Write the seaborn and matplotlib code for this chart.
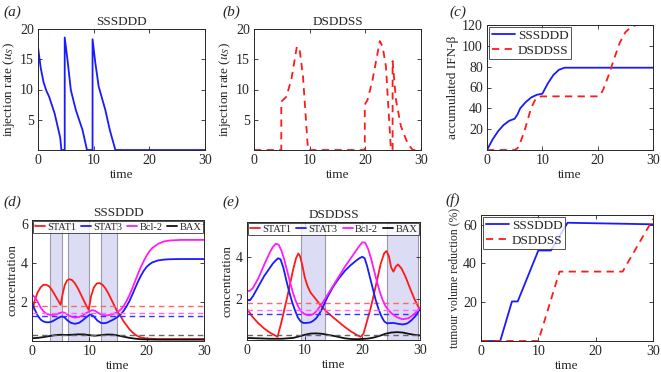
import numpy as np
import pandas as pd
import matplotlib
matplotlib.use("Agg")
import matplotlib.pyplot as plt
import seaborn as sns

# ---- (a) SSSDDD injection rate
inj_s_t = [0, 0.5, 1, 1.5, 2, 3, 4, 4.2, 4.8, 4.8, 5.3, 5.9, 6.8, 8.0, 8.8, 9.8, 9.8, 10.3, 10.9, 12.1, 12.9, 13.9, 30]
inj_s_u = [17, 13.5, 11.2, 9.8, 8.8, 6.0, 2.0, 0, 0, 18.6, 14.9, 9.9, 6.6, 3.3, 0, 0, 18.3, 14.4, 10.5, 6.6, 3.3, 0, 0]

# ---- (b) DSDDSS injection rate
inj_d_t = [0, 4.9, 4.9, 5.8, 6.7, 7.7, 8.2, 8.8, 9.7, 19.9, 19.9, 20.4, 21.3, 22.6, 23.1, 23.7, 24.6, 24.9,
           24.9, 25.5, 26.4, 27.6, 28.5, 30]
inj_d_u = [0, 0, 8.0, 8.8, 11.6, 17.1, 16.6, 12.2, 0, 0, 7.5, 8.3, 11.6, 18.0, 17.1, 13.8, 0, 0,
           14.7, 8.3, 3.9, 1.1, 0, 0]

# ---- (c) accumulated IFN-beta
acc_s_t = [0, 1, 2, 3, 4, 5, 5.5, 6, 7, 8, 9, 10, 10.5, 11, 12, 13, 14, 30]
acc_s_v = [0, 10, 18, 24, 28, 30, 34, 40, 46, 50.5, 53, 54, 59, 64, 72, 77, 79, 79]
acc_d_t = [0, 5.0, 5.5, 6.0, 6.7, 7.3, 7.9, 8.4, 8.8, 9.3, 9.8, 20, 20.5, 21, 22, 23, 24, 25, 26, 27, 30]
acc_d_v = [0, 0, 1.6, 7, 17, 28, 39, 45, 49, 51, 51.5, 51.5, 53, 58, 72, 88, 103, 113, 118, 120, 120]

# ---- (d) concentrations, SSSDDD
d_s1_t = [0, 0.5, 1, 1.5, 2, 2.5, 3, 3.5, 4, 4.5, 5.0, 5.3, 5.7, 6.1, 6.5, 7, 7.5, 8, 8.5, 9, 9.5, 9.9, 10.3, 10.8,
          11.3, 11.8, 12.3, 12.8, 13.3, 13.8, 14.3, 14.8, 15.5, 16, 16.5, 17, 17.5, 18, 18.5, 19, 20, 21, 22, 25, 30]
d_s1_v = [1.5, 2.1, 2.5, 2.75, 2.88, 2.88, 2.8, 2.6, 2.35, 2.1, 1.85, 2.35, 2.85, 3.1, 3.17, 3.12, 2.95, 2.7, 2.4,
          2.1, 1.8, 1.6, 2.3, 2.75, 2.95, 2.97, 2.88, 2.7, 2.45, 2.15, 1.85, 1.55, 1.25, 1.0, 0.8, 0.6, 0.45, 0.33,
          0.24, 0.18, 0.13, 0.11, 0.1, 0.1, 0.1]
d_s3_t = [0, 0.5, 1, 1.5, 2, 2.5, 3, 3.5, 4, 4.5, 5, 5.3, 5.7, 6.2, 6.8, 7.5, 8.2, 8.8, 9.4, 10.0, 10.3, 10.8, 11.4,
          12, 12.5, 13, 13.5, 14, 14.5, 15, 15.5, 16, 16.5, 17, 17.5, 18, 18.5, 19, 19.5, 20, 20.5, 21, 22, 23, 24, 26, 30]
d_s3_v = [1.95, 1.6, 1.3, 1.1, 1.0, 0.96, 0.96, 1.0, 1.08, 1.17, 1.24, 1.26, 1.2, 1.05, 0.93, 0.88, 0.93, 1.05, 1.2,
          1.33, 1.36, 1.25, 1.05, 0.93, 0.91, 0.93, 1.0, 1.07, 1.15, 1.25, 1.38, 1.55, 1.78, 2.05, 2.38, 2.72, 3.05,
          3.35, 3.6, 3.8, 3.93, 4.03, 4.13, 4.17, 4.19, 4.2, 4.2]
d_bcl_t = [0, 0.5, 1, 1.5, 2, 2.5, 3, 3.5, 4, 4.5, 5, 5.3, 5.7, 6.2, 6.8, 7.5, 8.2, 8.8, 9.4, 10.0, 10.5, 11, 11.5,
           12, 12.5, 13, 13.5, 14, 14.5, 15, 15.5, 16, 16.5, 17, 17.5, 18, 18.5, 19, 19.5, 20, 20.5, 21, 22, 23, 24, 26, 30]
d_bcl_v = [2.36, 2.25, 2.0, 1.72, 1.52, 1.4, 1.35, 1.33, 1.35, 1.4, 1.45, 1.47, 1.45, 1.35, 1.25, 1.2, 1.23, 1.3, 1.42,
           1.52, 1.58, 1.55, 1.45, 1.37, 1.33, 1.31, 1.33, 1.37, 1.42, 1.5, 1.62, 1.8, 2.05, 2.35, 2.7, 3.08, 3.45,
           3.8, 4.1, 4.38, 4.6, 4.77, 4.98, 5.1, 5.15, 5.18, 5.18]
d_bax_t = [0, 1, 2, 3, 4, 5, 6, 7, 8, 9, 10, 11, 12, 13, 14, 15, 16, 17, 18, 19, 20, 22, 25, 30]
d_bax_v = [0.14, 0.16, 0.2, 0.25, 0.3, 0.32, 0.31, 0.32, 0.34, 0.34, 0.3, 0.27, 0.3, 0.33, 0.33, 0.28, 0.22, 0.16,
           0.12, 0.09, 0.08, 0.07, 0.07, 0.07]
d_ref = [1.8, 1.28, 1.42, 0.3]
d_bands = [(3.1, 5.3), (6.2, 9.9), (12.0, 14.9)]

# ---- (e) concentrations, DSDDSS
e_s1_t = [0, 1, 2, 3, 4, 5, 5.3, 6, 6.5, 7, 7.5, 8, 8.5, 8.9, 9.2, 9.6, 10, 10.5, 11, 12, 13, 14, 15, 16, 17, 18, 19,
          19.7, 20.2, 20.8, 21.5, 22, 22.6, 23.2, 23.8, 24.2, 24.6, 25, 25.4, 25.8, 26.2, 26.8, 27.5, 28.2, 29, 30]
e_s1_v = [1.5, 1.1, 0.8, 0.55, 0.35, 0.2, 0.15, 0.9, 1.5, 2.1, 2.75, 3.4, 3.95, 4.18, 4.05, 3.6, 3.05, 2.6, 2.3,
          1.95, 1.6, 1.32, 1.08, 0.85, 0.62, 0.42, 0.25, 0.15, 0.3, 0.9, 1.6, 2.2, 2.95, 3.7, 4.2, 4.3, 4.05, 3.5,
          3.3, 3.55, 3.65, 3.45, 3.05, 2.55, 2.0, 1.45]
e_s3_t = [0, 0.5, 1, 2, 3, 4, 4.5, 5, 5.4, 5.8, 6.3, 6.8, 7.3, 7.8, 8.3, 8.8, 9.3, 9.8, 10.5, 11, 11.5, 12, 12.5, 13,
          13.5, 14, 15, 16, 17, 18, 19, 19.5, 20, 20.4, 20.8, 21.3, 21.8, 22.3, 22.8, 23.3, 23.8, 24.3, 24.8, 25.5,
          26.2, 27, 27.8, 28.5, 29.2, 30]
e_s3_v = [1.92, 1.92, 2.1, 2.6, 3.1, 3.5, 3.7, 3.85, 3.95, 3.9, 3.5, 2.9, 2.35, 1.85, 1.45, 1.1, 0.9, 0.82, 0.83,
          0.85, 0.93, 1.05, 1.25, 1.5, 1.8, 2.1, 2.6, 3.0, 3.35, 3.62, 3.85, 3.95, 4.02, 3.95, 3.6, 3.05, 2.5, 1.95,
          1.5, 1.15, 0.9, 0.8, 0.82, 0.82, 0.78, 0.75, 0.8, 0.95, 1.15, 1.5]
e_bcl_t = [0, 0.5, 1, 2, 3, 4, 4.5, 5, 5.5, 6, 6.5, 7, 7.5, 8, 8.5, 9, 9.5, 10, 10.5, 11, 11.5, 12, 13, 14, 15, 16,
           17, 18, 19, 19.5, 20, 20.5, 21, 21.5, 22, 22.5, 23, 23.5, 24, 24.5, 25, 25.5, 26, 27, 28, 29, 30]
e_bcl_v = [2.35, 2.38, 2.5, 3.0, 3.65, 4.25, 4.5, 4.65, 4.6, 4.3, 3.85, 3.3, 2.75, 2.25, 1.85, 1.55, 1.35, 1.25,
           1.2, 1.2, 1.25, 1.38, 1.75, 2.2, 2.65, 3.1, 3.55, 3.95, 4.35, 4.55, 4.72, 4.7, 4.4, 3.95, 3.4, 2.85, 2.35,
           1.95, 1.65, 1.45, 1.3, 1.2, 1.1, 1.0, 1.05, 1.25, 1.55]
e_bax_t = [0, 2, 4, 6, 8, 9, 10, 11, 12, 13, 14, 15, 16, 17, 18, 19, 20, 21, 22, 23, 24, 25, 26, 27, 28, 29, 30]
e_bax_v = [0.1, 0.08, 0.06, 0.06, 0.1, 0.17, 0.25, 0.31, 0.32, 0.3, 0.25, 0.2, 0.14, 0.08, 0.05, 0.04, 0.05, 0.07,
           0.12, 0.2, 0.3, 0.36, 0.38, 0.36, 0.3, 0.25, 0.22]
e_ref = [1.79, 1.28, 1.44, 0.24]
e_bands = [(9.3, 13.6), (24.3, 29.6)]

# ---- (f) tumour volume reduction
tum_s_t = [0, 3.35, 5.4, 6.4, 10.0, 12.2, 15.1, 30]
tum_s_v = [0, 0, 20.4, 20.4, 46.7, 46.7, 61.0, 60.2]
tum_d_t = [0, 10.0, 13.7, 24.7, 29.9, 30]
tum_d_v = [0, 0, 35.8, 35.8, 62.4, 63.0]

species = ["STAT1", "STAT3", "Bcl-2", "BAX"]
sp_colors = ["#ff1a1a", "#1a1aff", "#ff1aff", "#111111"]
ref_colors = ["#ff6666", "#3333ff", "#ff66ff", "#666666"]

sns.set_style("ticks")
plt.rcParams["font.family"] = ["Liberation Serif", "DejaVu Serif"]
plt.rcParams["mathtext.fontset"] = "stix"
plt.rcParams["font.size"] = 9.5
plt.rcParams["axes.edgecolor"] = "#262626"
plt.rcParams["axes.linewidth"] = 0.7
plt.rcParams["xtick.color"] = "#262626"
plt.rcParams["ytick.color"] = "#262626"

fig = plt.figure(figsize=(6.61, 3.72), dpi=100)

W, H = 661.0, 372.0


def box(l, r, t, b):
    return [l / W, 1 - b / H, (r - l) / W, (b - t) / H]


def style(ax, xlab="time"):
    ax.set_xlim(0, 30)
    ax.set_xticks([0, 10, 20, 30])
    ax.tick_params(direction="in", top=True, right=True, length=3, width=0.6, labelsize=10, pad=3)
    ax.set_xlabel(xlab, labelpad=1)


def line(ax, t, v, color, ls="-", lw=1.3, label=None, alpha=1.0):
    sns.lineplot(x=t, y=v, ax=ax, color=color, linestyle=ls, linewidth=lw,
                 estimator=None, sort=False, label=label, alpha=alpha)


def framed(leg):
    leg.get_frame().set_edgecolor("#262626")
    leg.get_frame().set_linewidth(0.7)


def conc_panel(ax, series, refs, bands, ylim, yticks, title):
    for a, b in bands:
        ax.axvspan(a, b, facecolor="#dcdcf5", edgecolor="#9a9aaa", linewidth=0.8, zorder=0)
    for (t, v), c, rc, r, name in zip(series, sp_colors, ref_colors, refs, species):
        line(ax, t, v, c, label=name)
        ax.axhline(r, color=rc, linestyle=(0, (4, 3)), linewidth=1.0)
    style(ax)
    ax.set_ylim(*ylim)
    ax.set_yticks(yticks)
    ax.set_ylabel("concentration", labelpad=2)
    ax.set_title(title, fontsize=9.5, pad=3)
    leg = ax.legend(loc="upper center", ncol=4, fontsize=7.5, handlelength=1.0, handletextpad=0.2,
                    columnspacing=0.2, borderpad=0.15, borderaxespad=0.1, frameon=True, fancybox=False,
                    mode="expand", bbox_to_anchor=(0, 0, 1, 1))
    framed(leg)


# (a)
ax_a = fig.add_axes(box(38, 205, 29, 150))
line(ax_a, inj_s_t, inj_s_u, "#1a1aff")
style(ax_a)
ax_a.set_ylim(0, 20)
ax_a.set_yticks([5, 10, 15, 20])
ax_a.set_ylabel("injection rate ($u_S$)", labelpad=2)
ax_a.set_title("SSSDDD", fontsize=9.5, pad=3)

# (b)
ax_b = fig.add_axes(box(254, 421, 29, 150))
line(ax_b, inj_d_t, inj_d_u, "#ff1a1a", ls=(0, (4, 3)))
style(ax_b)
ax_b.set_ylim(0, 20)
ax_b.set_yticks([5, 10, 15, 20])
ax_b.set_ylabel("injection rate ($u_S$)", labelpad=2)
ax_b.set_title("DSDDSS", fontsize=9.5, pad=3)

# (c)
ax_c = fig.add_axes(box(487, 653, 25, 150))
line(ax_c, acc_s_t, acc_s_v, "#1a1aff", label="SSSDDD")
line(ax_c, acc_d_t, acc_d_v, "#ff1a1a", ls=(0, (4, 3)), label="DSDDSS")
style(ax_c)
ax_c.set_ylim(0, 120)
ax_c.set_yticks([20, 40, 60, 80, 100, 120])
ax_c.set_ylabel("accumulated IFN-β", labelpad=2)
framed(ax_c.legend(loc="upper left", fontsize=9.5, handlelength=1.8, handletextpad=0.2, borderpad=0.2,
                   borderaxespad=0.15, labelspacing=0.2, fancybox=False))

# (d)
ax_d = fig.add_axes(box(32, 204, 220, 341))
conc_panel(ax_d, [(d_s1_t, d_s1_v), (d_s3_t, d_s3_v), (d_bcl_t, d_bcl_v), (d_bax_t, d_bax_v)],
           d_ref, d_bands, (0, 6.2), [2, 4, 6], "SSSDDD")

# (e)
ax_e = fig.add_axes(box(247, 420, 222, 340))
conc_panel(ax_e, [(e_s1_t, e_s1_v), (e_s3_t, e_s3_v), (e_bcl_t, e_bcl_v), (e_bax_t, e_bax_v)],
           e_ref, e_bands, (0, 5.7), [2, 4], "DSDDSS")

# (f)
ax_f = fig.add_axes(box(481, 653, 215, 341))
line(ax_f, tum_s_t, tum_s_v, "#1a1aff", label="SSSDDD")
line(ax_f, tum_d_t, tum_d_v, "#ff1a1a", ls=(0, (4, 3)), label="DSDDSS")
style(ax_f)
ax_f.set_ylim(0, 65)
ax_f.set_yticks([20, 40, 60])
ax_f.set_ylabel("tumour volume reduction (%)", labelpad=2, fontsize=8.5)
framed(ax_f.legend(loc="upper left", fontsize=9.5, handlelength=1.8, handletextpad=0.2, borderpad=0.2,
                   borderaxespad=0.15, labelspacing=0.2, fancybox=False))

# panel letters
for lab, x, y in [("(a)", 3, 12), ("(b)", 222, 12), ("(c)", 449, 12),
                  ("(d)", 3, 202), ("(e)", 222, 202), ("(f)", 445, 200)]:
    fig.text(x / W, 1 - y / H, lab, fontsize=11, style="italic", va="center", ha="left")

fig.savefig("out.png", dpi=100)
